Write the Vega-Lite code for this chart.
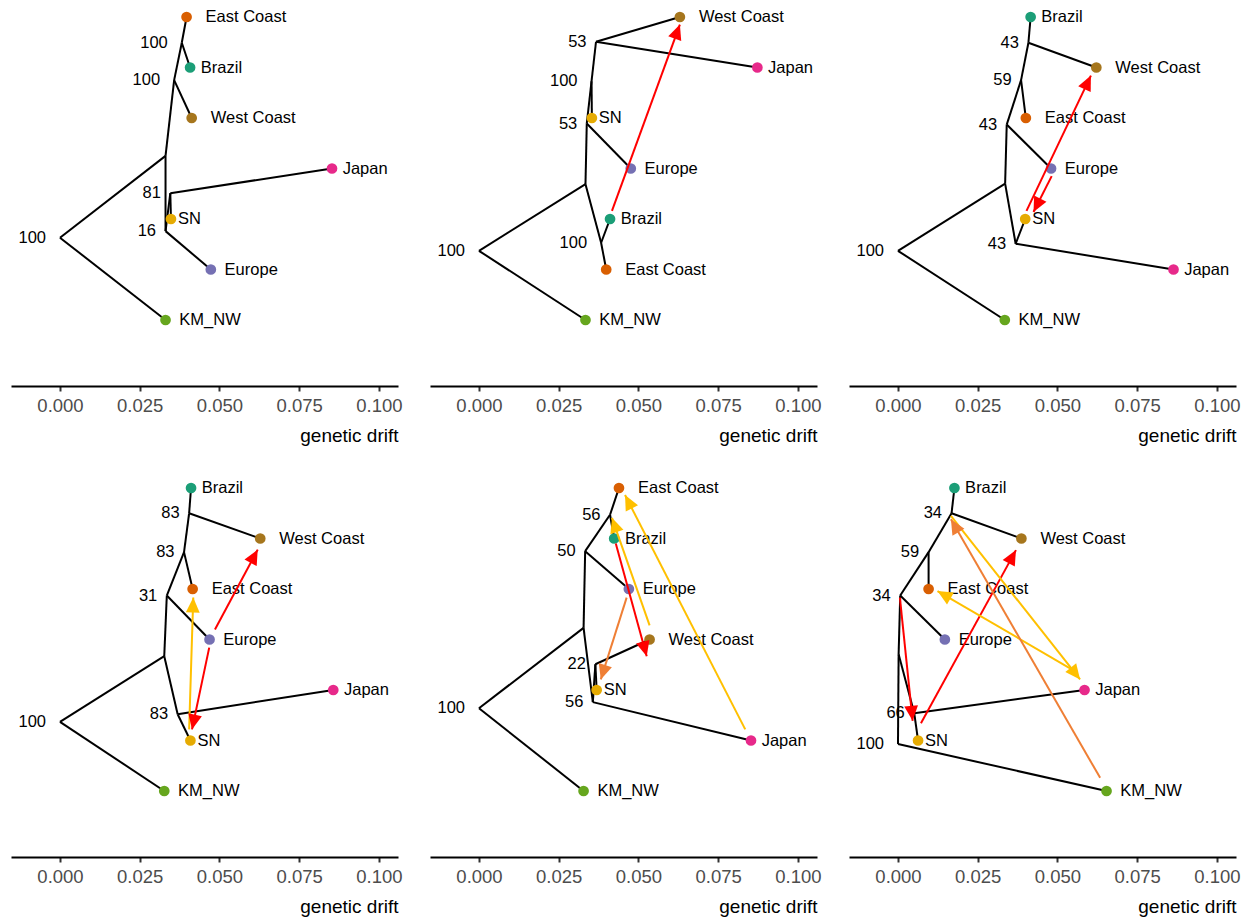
{
"$schema": "https://vega.github.io/schema/vega-lite/v6.json",
"background": "white",
"padding": {"left": 10, "top": 0, "right": 5, "bottom": 5},
"bounds": "flush",
"spacing": {"row": 86, "column": 32},
"columns": 3,
"data": {"values": [
{"p":1,"k":"e","x":0,"y":5.37,"x2":0.0331,"y2":7},
{"p":1,"k":"e","x":0,"y":5.37,"x2":0.0331,"y2":3.75},
{"p":1,"k":"e","x":0.0331,"y":3.75,"x2":0.0358,"y2":2.25},
{"p":1,"k":"e","x":0.0331,"y":3.75,"x2":0.0331,"y2":5.24},
{"p":1,"k":"e","x":0.0358,"y":2.25,"x2":0.0413,"y2":3},
{"p":1,"k":"e","x":0.0358,"y":2.25,"x2":0.0382,"y2":1.51},
{"p":1,"k":"e","x":0.0382,"y":1.51,"x2":0.0397,"y2":1},
{"p":1,"k":"e","x":0.0382,"y":1.51,"x2":0.0408,"y2":2},
{"p":1,"k":"e","x":0.0331,"y":5.24,"x2":0.0473,"y2":6},
{"p":1,"k":"e","x":0.0331,"y":5.24,"x2":0.0346,"y2":4.49},
{"p":1,"k":"e","x":0.0346,"y":4.49,"x2":0.0853,"y2":4},
{"p":1,"k":"e","x":0.0346,"y":4.49,"x2":0.0348,"y2":5},
{"p":2,"k":"e","x":0,"y":5.63,"x2":0.0334,"y2":7},
{"p":2,"k":"e","x":0,"y":5.63,"x2":0.0334,"y2":4.31},
{"p":2,"k":"e","x":0.0334,"y":4.31,"x2":0.0383,"y2":5.47},
{"p":2,"k":"e","x":0.0383,"y":5.47,"x2":0.0399,"y2":6},
{"p":2,"k":"e","x":0.0383,"y":5.47,"x2":0.0411,"y2":5},
{"p":2,"k":"e","x":0.0334,"y":4.31,"x2":0.0338,"y2":3.11},
{"p":2,"k":"e","x":0.0338,"y":3.11,"x2":0.0476,"y2":4},
{"p":2,"k":"e","x":0.0338,"y":3.11,"x2":0.0353,"y2":2.27},
{"p":2,"k":"e","x":0.0353,"y":2.27,"x2":0.0354,"y2":3},
{"p":2,"k":"e","x":0.0353,"y":2.27,"x2":0.0367,"y2":1.49},
{"p":2,"k":"e","x":0.0367,"y":1.49,"x2":0.0630,"y2":1},
{"p":2,"k":"e","x":0.0367,"y":1.49,"x2":0.0873,"y2":2},
{"p":3,"k":"e","x":0,"y":5.63,"x2":0.0335,"y2":7},
{"p":3,"k":"e","x":0,"y":5.63,"x2":0.0336,"y2":4.30},
{"p":3,"k":"e","x":0.0336,"y":4.30,"x2":0.0369,"y2":5.49},
{"p":3,"k":"e","x":0.0369,"y":5.49,"x2":0.0399,"y2":5},
{"p":3,"k":"e","x":0.0369,"y":5.49,"x2":0.0864,"y2":6},
{"p":3,"k":"e","x":0.0336,"y":4.30,"x2":0.0341,"y2":3.13},
{"p":3,"k":"e","x":0.0341,"y":3.13,"x2":0.0480,"y2":4},
{"p":3,"k":"e","x":0.0341,"y":3.13,"x2":0.0386,"y2":2.25},
{"p":3,"k":"e","x":0.0386,"y":2.25,"x2":0.0401,"y2":3},
{"p":3,"k":"e","x":0.0386,"y":2.25,"x2":0.0409,"y2":1.51},
{"p":3,"k":"e","x":0.0409,"y":1.51,"x2":0.0416,"y2":1},
{"p":3,"k":"e","x":0.0409,"y":1.51,"x2":0.0622,"y2":2},
{"p":4,"k":"e","x":0,"y":5.63,"x2":0.0327,"y2":7},
{"p":4,"k":"e","x":0,"y":5.63,"x2":0.0327,"y2":4.33},
{"p":4,"k":"e","x":0.0327,"y":4.33,"x2":0.0369,"y2":5.48},
{"p":4,"k":"e","x":0.0369,"y":5.48,"x2":0.0857,"y2":5},
{"p":4,"k":"e","x":0.0369,"y":5.48,"x2":0.0409,"y2":6},
{"p":4,"k":"e","x":0.0327,"y":4.33,"x2":0.0335,"y2":3.13},
{"p":4,"k":"e","x":0.0335,"y":3.13,"x2":0.0469,"y2":4},
{"p":4,"k":"e","x":0.0335,"y":3.13,"x2":0.0389,"y2":2.27},
{"p":4,"k":"e","x":0.0389,"y":2.27,"x2":0.0416,"y2":3},
{"p":4,"k":"e","x":0.0389,"y":2.27,"x2":0.0405,"y2":1.50},
{"p":4,"k":"e","x":0.0405,"y":1.50,"x2":0.0411,"y2":1},
{"p":4,"k":"e","x":0.0405,"y":1.50,"x2":0.0628,"y2":2},
{"p":5,"k":"e","x":0,"y":5.36,"x2":0.0328,"y2":7},
{"p":5,"k":"e","x":0,"y":5.36,"x2":0.0328,"y2":3.77},
{"p":5,"k":"e","x":0.0328,"y":3.77,"x2":0.0357,"y2":5.24},
{"p":5,"k":"e","x":0.0357,"y":5.24,"x2":0.0853,"y2":6},
{"p":5,"k":"e","x":0.0357,"y":5.24,"x2":0.0365,"y2":4.49},
{"p":5,"k":"e","x":0.0365,"y":4.49,"x2":0.0535,"y2":4},
{"p":5,"k":"e","x":0.0365,"y":4.49,"x2":0.0369,"y2":5},
{"p":5,"k":"e","x":0.0328,"y":3.77,"x2":0.0333,"y2":2.25},
{"p":5,"k":"e","x":0.0333,"y":2.25,"x2":0.0470,"y2":3},
{"p":5,"k":"e","x":0.0333,"y":2.25,"x2":0.0411,"y2":1.53},
{"p":5,"k":"e","x":0.0411,"y":1.53,"x2":0.0439,"y2":1},
{"p":5,"k":"e","x":0.0411,"y":1.53,"x2":0.0424,"y2":2},
{"p":6,"k":"e","x":0,"y":6.07,"x2":0.0654,"y2":7},
{"p":6,"k":"e","x":0,"y":6.07,"x2":0.0002,"y2":4.29},
{"p":6,"k":"e","x":0.0002,"y":4.29,"x2":0.0007,"y2":3.13},
{"p":6,"k":"e","x":0.0007,"y":3.13,"x2":0.0147,"y2":4},
{"p":6,"k":"e","x":0.0007,"y":3.13,"x2":0.0096,"y2":2.27},
{"p":6,"k":"e","x":0.0096,"y":2.27,"x2":0.0096,"y2":3},
{"p":6,"k":"e","x":0.0096,"y":2.27,"x2":0.0168,"y2":1.50},
{"p":6,"k":"e","x":0.0168,"y":1.50,"x2":0.0177,"y2":1},
{"p":6,"k":"e","x":0.0168,"y":1.50,"x2":0.0387,"y2":2},
{"p":6,"k":"e","x":0.0002,"y":4.29,"x2":0.0051,"y2":5.46},
{"p":6,"k":"e","x":0.0051,"y":5.46,"x2":0.0585,"y2":5},
{"p":6,"k":"e","x":0.0051,"y":5.46,"x2":0.0063,"y2":6},

{"p":1,"k":"t","n":"East Coast","x":0.0397,"y":1},
{"p":1,"k":"t","n":"Brazil","x":0.0408,"y":2},
{"p":1,"k":"t","n":"West Coast","x":0.0413,"y":3},
{"p":1,"k":"t","n":"Japan","x":0.0853,"y":4},
{"p":1,"k":"t","n":"SN","x":0.0348,"y":5},
{"p":1,"k":"t","n":"Europe","x":0.0473,"y":6},
{"p":1,"k":"t","n":"KM_NW","x":0.0331,"y":7},
{"p":2,"k":"t","n":"West Coast","x":0.0630,"y":1},
{"p":2,"k":"t","n":"Japan","x":0.0873,"y":2},
{"p":2,"k":"t","n":"SN","x":0.0354,"y":3},
{"p":2,"k":"t","n":"Europe","x":0.0476,"y":4},
{"p":2,"k":"t","n":"Brazil","x":0.0411,"y":5},
{"p":2,"k":"t","n":"East Coast","x":0.0399,"y":6},
{"p":2,"k":"t","n":"KM_NW","x":0.0334,"y":7},
{"p":3,"k":"t","n":"Brazil","x":0.0416,"y":1},
{"p":3,"k":"t","n":"West Coast","x":0.0622,"y":2},
{"p":3,"k":"t","n":"East Coast","x":0.0401,"y":3},
{"p":3,"k":"t","n":"Europe","x":0.0480,"y":4},
{"p":3,"k":"t","n":"SN","x":0.0399,"y":5},
{"p":3,"k":"t","n":"Japan","x":0.0864,"y":6},
{"p":3,"k":"t","n":"KM_NW","x":0.0335,"y":7},
{"p":4,"k":"t","n":"Brazil","x":0.0411,"y":1},
{"p":4,"k":"t","n":"West Coast","x":0.0628,"y":2},
{"p":4,"k":"t","n":"East Coast","x":0.0416,"y":3},
{"p":4,"k":"t","n":"Europe","x":0.0469,"y":4},
{"p":4,"k":"t","n":"Japan","x":0.0857,"y":5},
{"p":4,"k":"t","n":"SN","x":0.0409,"y":6},
{"p":4,"k":"t","n":"KM_NW","x":0.0327,"y":7},
{"p":5,"k":"t","n":"East Coast","x":0.0439,"y":1},
{"p":5,"k":"t","n":"Brazil","x":0.0424,"y":2},
{"p":5,"k":"t","n":"Europe","x":0.0470,"y":3},
{"p":5,"k":"t","n":"West Coast","x":0.0535,"y":4},
{"p":5,"k":"t","n":"SN","x":0.0369,"y":5},
{"p":5,"k":"t","n":"Japan","x":0.0853,"y":6},
{"p":5,"k":"t","n":"KM_NW","x":0.0328,"y":7},
{"p":6,"k":"t","n":"Brazil","x":0.0177,"y":1},
{"p":6,"k":"t","n":"West Coast","x":0.0387,"y":2},
{"p":6,"k":"t","n":"East Coast","x":0.0096,"y":3},
{"p":6,"k":"t","n":"Europe","x":0.0147,"y":4},
{"p":6,"k":"t","n":"Japan","x":0.0585,"y":5},
{"p":6,"k":"t","n":"SN","x":0.0063,"y":6},
{"p":6,"k":"t","n":"KM_NW","x":0.0654,"y":7},

{"p":1,"k":"b","v":"100","x":0,"y":5.37},
{"p":1,"k":"b","v":"100","x":0.0358,"y":2.25},
{"p":1,"k":"b","v":"100","x":0.0382,"y":1.51},
{"p":1,"k":"b","v":"81","x":0.0346,"y":4.49},
{"p":1,"k":"b","v":"16","x":0.0331,"y":5.24},
{"p":2,"k":"b","v":"100","x":0,"y":5.63},
{"p":2,"k":"b","v":"100","x":0.0383,"y":5.47},
{"p":2,"k":"b","v":"53","x":0.0338,"y":3.11},
{"p":2,"k":"b","v":"100","x":0.0353,"y":2.27},
{"p":2,"k":"b","v":"53","x":0.0367,"y":1.49},
{"p":3,"k":"b","v":"100","x":0,"y":5.63},
{"p":3,"k":"b","v":"43","x":0.0369,"y":5.49},
{"p":3,"k":"b","v":"43","x":0.0341,"y":3.13},
{"p":3,"k":"b","v":"59","x":0.0386,"y":2.25},
{"p":3,"k":"b","v":"43","x":0.0409,"y":1.51},
{"p":4,"k":"b","v":"100","x":0,"y":5.63},
{"p":4,"k":"b","v":"83","x":0.0369,"y":5.48},
{"p":4,"k":"b","v":"31","x":0.0335,"y":3.13},
{"p":4,"k":"b","v":"83","x":0.0389,"y":2.27},
{"p":4,"k":"b","v":"83","x":0.0405,"y":1.50},
{"p":5,"k":"b","v":"100","x":0,"y":5.36},
{"p":5,"k":"b","v":"56","x":0.0357,"y":5.24},
{"p":5,"k":"b","v":"22","x":0.0365,"y":4.49},
{"p":5,"k":"b","v":"50","x":0.0333,"y":2.25},
{"p":5,"k":"b","v":"56","x":0.0411,"y":1.53},
{"p":6,"k":"b","v":"100","x":0,"y":6.07},
{"p":6,"k":"b","v":"34","x":0.0007,"y":3.13},
{"p":6,"k":"b","v":"59","x":0.0096,"y":2.27},
{"p":6,"k":"b","v":"34","x":0.0168,"y":1.50},
{"p":6,"k":"b","v":"66","x":0.0051,"y":5.46},

{"p":2,"k":"a","w":"high","x":0.0417,"y":4.84,"x2":0.0630,"y2":1.15},
{"p":3,"k":"a","w":"high","x":0.0403,"y":4.84,"x2":0.0605,"y2":2.16},
{"p":3,"k":"a","w":"high","x":0.0482,"y":4.15,"x2":0.0425,"y2":4.86},
{"p":4,"k":"a","w":"high","x":0.0486,"y":3.80,"x2":0.0620,"y2":2.22},
{"p":4,"k":"a","w":"high","x":0.0468,"y":4.16,"x2":0.0414,"y2":5.78},
{"p":4,"k":"a","w":"low","x":0.0405,"y":5.78,"x2":0.0418,"y2":3.17},
{"p":5,"k":"a","w":"high","x":0.0429,"y":2.10,"x2":0.0526,"y2":4.33},
{"p":5,"k":"a","w":"low","x":0.0535,"y":3.72,"x2":0.0417,"y2":1.59},
{"p":5,"k":"a","w":"low","x":0.0835,"y":5.78,"x2":0.0458,"y2":1.14},
{"p":5,"k":"a","w":"mid","x":0.0463,"y":3.17,"x2":0.0382,"y2":4.79},
{"p":6,"k":"a","w":"high","x":0.0006,"y":3.17,"x2":0.0046,"y2":5.61},
{"p":6,"k":"a","w":"high","x":0.0072,"y":5.66,"x2":0.0370,"y2":2.23},
{"p":6,"k":"a","w":"low","x":0.0166,"y":1.55,"x2":0.0571,"y2":4.79},
{"p":6,"k":"a","w":"low","x":0.0553,"y":4.62,"x2":0.0124,"y2":3.04},
{"p":6,"k":"a","w":"mid","x":0.0634,"y":6.74,"x2":0.0166,"y2":1.62}
]},
"facet": {"field": "p", "type": "ordinal", "title": null, "header": {"labels": false, "labelFontSize": 0, "labelPadding": 0, "labelExpr": "''", "title": null}},
"resolve": {"axis": {"x": "independent"}},
"spec": {
  "width": 387,
  "height": 385,
  "encoding": {
    "x": {"field": "x", "type": "quantitative",
      "scale": {"domain": [-0.01536, 0.106], "nice": false, "zero": false},
      "axis": {"values": [0, 0.025, 0.05, 0.075, 0.1], "format": ".3f", "title": "genetic drift", "grid": false,
        "domainColor": "black", "domainWidth": 2, "tickColor": "#333333", "tickWidth": 2, "tickSize": 5,
        "labelColor": "#4D4D4D", "labelFontSize": 18.5, "labelPadding": 5, "labelFont": "Liberation Sans", "labelOverlap": false,
        "titleFont": "Liberation Sans", "titleFontSize": 19, "titleFontWeight": "normal", "titleColor": "black",
        "titleAlign": "right", "titleX": 387, "titleY": 55, "titleBaseline": "alphabetic"}},
    "y": {"field": "y", "type": "quantitative",
      "scale": {"domain": [0.683, 8.307], "reverse": true, "nice": false, "zero": false},
      "axis": null}
  },
  "layer": [
    {"transform": [{"filter": "datum.k == 'e'"}],
     "mark": {"type": "rule", "strokeWidth": 2, "color": "black"},
     "encoding": {"x2": {"field": "x2"}, "y2": {"field": "y2"}}},
    {"transform": [{"filter": "datum.k == 't'"}],
     "mark": {"type": "circle", "size": 115, "opacity": 1},
     "encoding": {"color": {"field": "n", "type": "nominal", "legend": null,
       "scale": {"domain": ["East Coast", "Brazil", "West Coast", "Japan", "SN", "Europe", "KM_NW"],
                 "range": ["#D95F02", "#1B9E77", "#A6761D", "#E7298A", "#E6AB02", "#7570B3", "#66A61E"]}}}},
    {"transform": [{"filter": "datum.k == 't' && datum.n == 'SN'"}],
     "mark": {"type": "text", "align": "left", "baseline": "middle", "dx": 7, "fontSize": 16.5, "font": "Liberation Sans", "color": "black"},
     "encoding": {"text": {"field": "n"}}},
    {"transform": [{"filter": "datum.k == 't' && (datum.n == 'Brazil' || datum.n == 'Japan')"}],
     "mark": {"type": "text", "align": "left", "baseline": "middle", "dx": 10.7, "fontSize": 16.5, "font": "Liberation Sans", "color": "black"},
     "encoding": {"text": {"field": "n"}}},
    {"transform": [{"filter": "datum.k == 't' && (datum.n == 'Europe' || datum.n == 'KM_NW')"}],
     "mark": {"type": "text", "align": "left", "baseline": "middle", "dx": 13.8, "fontSize": 16.5, "font": "Liberation Sans", "color": "black"},
     "encoding": {"text": {"field": "n"}}},
    {"transform": [{"filter": "datum.k == 't' && (datum.n == 'East Coast' || datum.n == 'West Coast')"}],
     "mark": {"type": "text", "align": "left", "baseline": "middle", "dx": 19, "fontSize": 16.5, "font": "Liberation Sans", "color": "black"},
     "encoding": {"text": {"field": "n"}}},
    {"transform": [{"filter": "datum.k == 'b' && length(datum.v) == 3"}],
     "mark": {"type": "text", "align": "right", "baseline": "middle", "dx": -14, "fontSize": 16.5, "font": "Liberation Sans", "color": "black"},
     "encoding": {"text": {"field": "v"}}},
    {"transform": [{"filter": "datum.k == 'b' && length(datum.v) == 2"}],
     "mark": {"type": "text", "align": "right", "baseline": "middle", "dx": -9.5, "fontSize": 16.5, "font": "Liberation Sans", "color": "black"},
     "encoding": {"text": {"field": "v"}}},
    {"transform": [{"filter": "datum.k == 'a'"}],
     "mark": {"type": "rule", "strokeWidth": 2},
     "encoding": {"x2": {"field": "x2"}, "y2": {"field": "y2"},
       "color": {"field": "w", "type": "nominal", "legend": null,
         "scale": {"domain": ["high", "mid", "low"], "range": ["#FF0000", "#EF7F35", "#FFC000"]}}}},
    {"transform": [{"filter": "datum.k == 'a'"},
                   {"calculate": "atan2((datum.x2 - datum.x) * 3189, -(datum.y2 - datum.y) * 50.5) * 180 / PI", "as": "ang"}],
     "mark": {"type": "point", "shape": "M0,0L-0.46,1L0.46,1Z", "filled": true, "size": 900, "opacity": 1, "strokeWidth": 0},
     "encoding": {"x": {"field": "x2", "type": "quantitative"}, "y": {"field": "y2", "type": "quantitative"},
       "angle": {"field": "ang", "type": "quantitative", "scale": null},
       "color": {"field": "w", "type": "nominal", "legend": null,
         "scale": {"domain": ["high", "mid", "low"], "range": ["#FF0000", "#EF7F35", "#FFC000"]}}}}
  ],
  "resolve": {"scale": {"color": "independent"}}
},
"config": {"view": {"stroke": "transparent"}, "font": "Liberation Sans", "header": {"labels": false, "labelFontSize": 0, "labelPadding": 0, "title": null}}
}
